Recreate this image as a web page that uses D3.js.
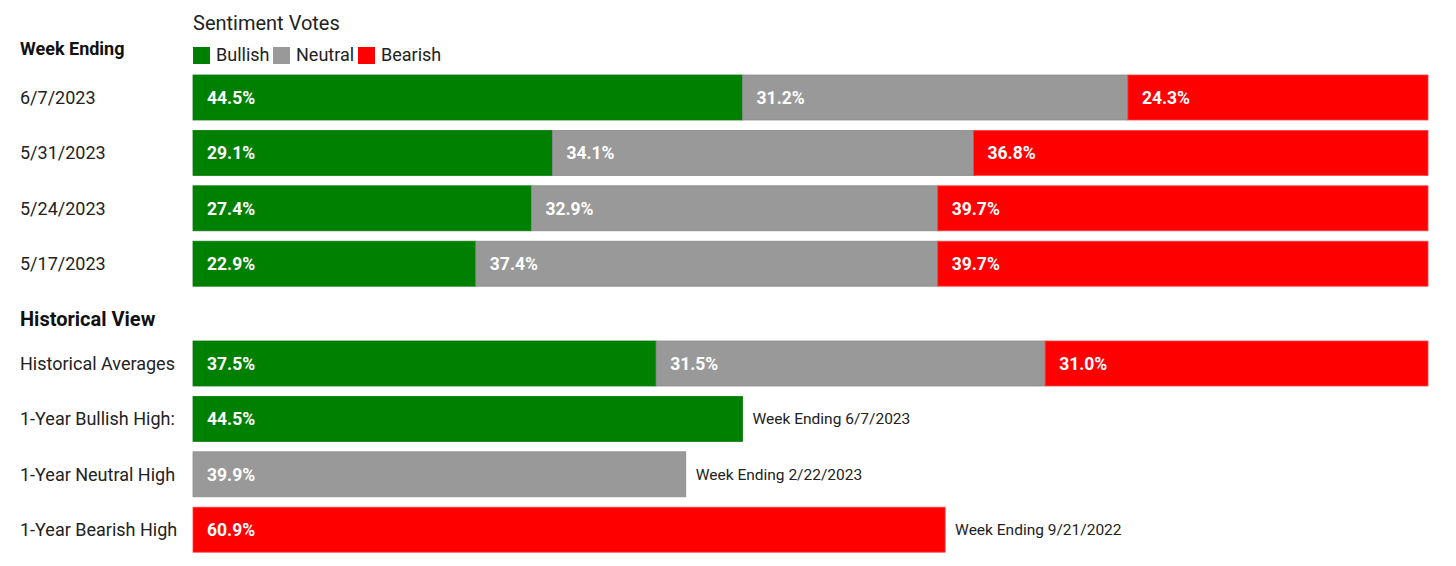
<!DOCTYPE html>
<html><head><meta charset="utf-8">
<script src="https://cdn.jsdelivr.net/npm/d3@7"></script>
<style>body{margin:0;background:#fff;}svg{display:block;font-family:Roboto,"Noto Sans",sans-serif;}</style>
</head><body><svg id="c" width="1456" height="566"></svg>
<script>
const weeks = ["6/7/2023","5/31/2023","5/24/2023","5/17/2023"];
const bullish = [44.5,29.1,27.4,22.9];
const neutral = [31.2,34.1,32.9,37.4];
const bearish = [24.3,36.8,39.7,39.7];
const seriesNames = ["Bullish","Neutral","Bearish"];
const seriesColors = ["#008000","#999999","#ff0000"];
const histLabels = ["Historical Averages","1-Year Bullish High:","1-Year Neutral High","1-Year Bearish High"];
const histAvg = [37.5,31.5,31.0];
const highValues = [44.5,39.9,60.9];
const highSeries = [0,1,2];
const highNotes = ["Week Ending 6/7/2023","Week Ending 2/22/2023","Week Ending 9/21/2022"];

const svg = d3.select("#c");
const x = d3.scaleLinear().domain([0,100]).range([193,1428]);
const color = d3.scaleOrdinal().domain(seriesNames).range(seriesColors);
const strokeCol = {"Bullish":"#0a7a0a","Neutral":"#8a8a8a","Bearish":"#ff4040"};
const yTop = d3.scaleBand().domain(weeks).range([75,75+211.2]).paddingInner(0.188).paddingOuter(0);
const yHist = d3.scaleBand().domain(histLabels).range([341,341+211.2]).paddingInner(0.188).paddingOuter(0);

// headers
svg.append("text").attr("x",193).attr("y",30).attr("font-size",20).attr("fill","#222").text("Sentiment Votes");
svg.append("text").attr("x",20).attr("y",55).attr("font-size",18).attr("font-weight",700).attr("fill","#111").text("Week Ending");
svg.append("text").attr("x",20).attr("y",326).attr("font-size",20).attr("font-weight",700).attr("fill","#111").text("Historical View");

// legend
const legX = [193,273,358];
seriesNames.forEach((s,i)=>{
  svg.append("rect").attr("x",legX[i]).attr("y",47).attr("width",17).attr("height",17).attr("fill",color(s));
  svg.append("text").attr("x",legX[i]+23).attr("y",61).attr("font-size",18).attr("fill","#222").text(s);
});

function stackRow(y, label, vals){
  let cum = 0;
  vals.forEach((v,i)=>{
    const s = seriesNames[i];
    const x0 = x(cum), x1 = x(cum+v);
    svg.append("rect").attr("x",x0).attr("y",y(label)).attr("width",x1-x0).attr("height",y.bandwidth())
      .attr("fill",color(s)).attr("stroke",strokeCol[s]).attr("stroke-width",0.8);
    svg.append("text").attr("x",x0+14).attr("y",y(label)+y.bandwidth()/2).attr("dy","0.36em")
      .attr("font-size",17.5).attr("font-weight",700).attr("fill","#fff").text(v.toFixed(1)+"%");
    cum += v;
  });
}

weeks.forEach((w,i)=>{
  svg.append("text").attr("x",20).attr("y",yTop(w)+yTop.bandwidth()/2).attr("dy","0.36em")
    .attr("font-size",18).attr("fill","#222").text(w);
  stackRow(yTop, w, [bullish[i],neutral[i],bearish[i]]);
});

histLabels.forEach(l=>{
  svg.append("text").attr("x",20).attr("y",yHist(l)+yHist.bandwidth()/2).attr("dy","0.36em")
    .attr("font-size",18).attr("fill","#222").text(l);
});
stackRow(yHist, histLabels[0], histAvg);

highValues.forEach((v,i)=>{
  const l = histLabels[i+1], s = seriesNames[highSeries[i]];
  svg.append("rect").attr("x",x(0)).attr("y",yHist(l)).attr("width",x(v)-x(0)).attr("height",yHist.bandwidth())
    .attr("fill",color(s)).attr("stroke",strokeCol[s]).attr("stroke-width",0.8);
  svg.append("text").attr("x",x(0)+14).attr("y",yHist(l)+yHist.bandwidth()/2).attr("dy","0.36em")
    .attr("font-size",17.5).attr("font-weight",700).attr("fill","#fff").text(v.toFixed(1)+"%");
  svg.append("text").attr("x",x(v)+10).attr("y",yHist(l)+yHist.bandwidth()/2).attr("dy","0.36em")
    .attr("font-size",15.5).attr("fill","#222").text(highNotes[i]);
});
</script></body></html>
